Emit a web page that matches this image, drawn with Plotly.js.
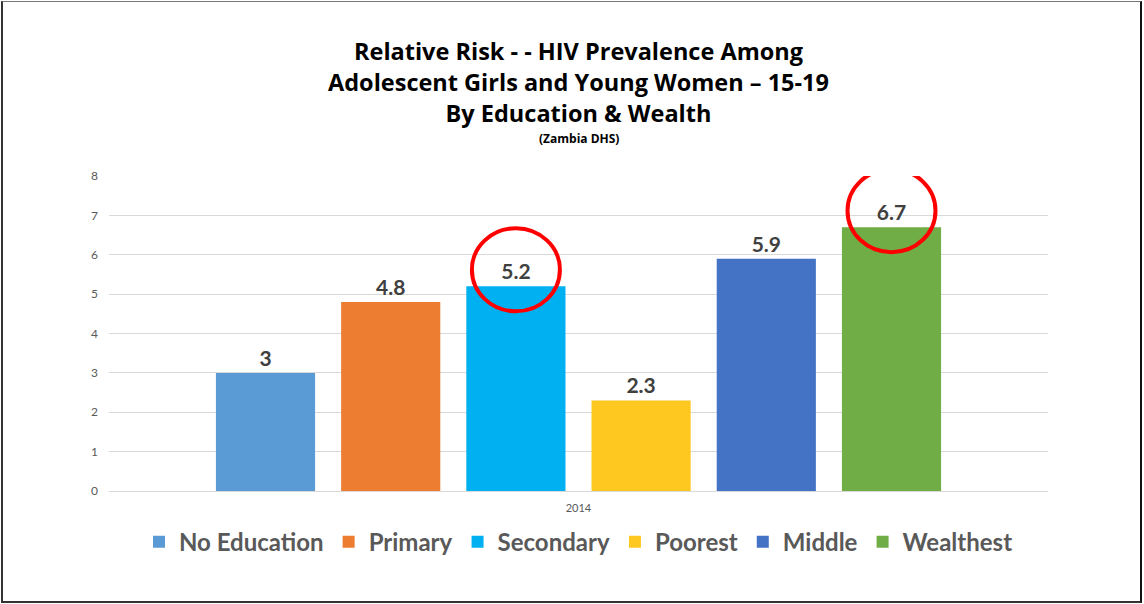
<!DOCTYPE html>
<html>
<head>
<meta charset="utf-8">
<script src="https://cdn.plot.ly/plotly-3.0.1.min.js"></script>
<style>
  html, body { margin: 0; padding: 0; background: #fff; }
  #frame { position: absolute; left: 1px; top: 1px; width: 1137px; height: 599px;
           border-top: 1px solid #777; border-left: 2px solid #333;
           border-right: 2px solid #111; border-bottom: 2px solid #333; pointer-events: none; z-index: 10; }
  #chart { position: absolute; left: 0; top: 0; width: 1144px; height: 604px; }
</style>
</head>
<body>
<div id="chart"></div>
<div id="frame"></div>
<script>
const year = ["2014"];
const seriesNames = ["No Education", "Primary", "Secondary", "Poorest", "Middle", "Wealthest"];
const seriesValues = [3, 4.8, 5.2, 2.3, 5.9, 6.7];
const seriesColors = ["#5B9BD5", "#ED7D31", "#00B0F0", "#FFC820", "#4472C4", "#70AD47"];
const highlighted = ["Secondary", "Wealthest"];
const titleText = "Relative Risk - - HIV Prevalence Among<br>Adolescent Girls and Young Women – 15-19<br>By Education &amp; Wealth";
const sourceText = "(Zambia DHS)";

const traces = seriesNames.map((name, i) => ({
  type: "bar",
  name: name,
  x: year,
  y: [seriesValues[i]],
  marker: { color: seriesColors[i] },
  text: [String(seriesValues[i])],
  textposition: "outside",
  cliponaxis: false,
  textfont: { family: "Lato, 'Open Sans', sans-serif", size: 21, color: "#404040", weight: "bold" },
  hoverinfo: "skip"
}));

// highlight circles around selected bar labels
const nCats = seriesNames.length;
const groupFrac = 1 - 0.2;
const shapes = highlighted.map(name => {
  const i = seriesNames.indexOf(name);
  const xc = 0.5 + (-groupFrac / 2 + (i + 0.5) * groupFrac / nCats);
  return {
    type: "circle",
    xref: "paper", yref: "y",
    xsizemode: "pixel", ysizemode: "pixel",
    xanchor: xc, yanchor: seriesValues[i],
    x0: -44, x1: 44, y0: -25, y1: 58,
    line: { color: "#FF0000", width: 4 }
  };
});

const layout = {
  width: 1144, height: 604,
  margin: { l: 109, r: 96, t: 176, b: 113 },
  paper_bgcolor: "#ffffff",
  plot_bgcolor: "#ffffff",
  font: { family: "Lato, 'Open Sans', sans-serif", color: "#595959" },
  title: {
    text: "<b>" + titleText + "</b>",
    font: { family: "'Open Sans', Lato, sans-serif", size: 23.5, color: "#000000" },
    x: 0.5, xanchor: "center", xref: "paper",
    y: 0.9, yanchor: "top", yref: "container"
  },
  annotations: [{
    text: "<b>" + sourceText + "</b>",
    xref: "paper", yref: "paper",
    x: 0.5, xanchor: "center",
    y: 1.12, yanchor: "middle",
    showarrow: false,
    font: { family: "'Open Sans', Lato, sans-serif", size: 12, color: "#000000" }
  }],
  barmode: "group",
  bargap: 0.2,
  bargroupgap: 0.208,
  xaxis: {
    type: "category",
    showgrid: false,
    showline: true, linecolor: "#d9d9d9", linewidth: 1,
    ticks: "",
    tickfont: { size: 11, color: "#595959" },
    ticklabelstandoff: 7
  },
  yaxis: {
    range: [0, 8], dtick: 1,
    showgrid: true, gridcolor: "#d9d9d9", gridwidth: 1,
    zeroline: false, showline: false,
    ticks: "",
    tickfont: { size: 12, color: "#595959" },
    ticklabelstandoff: 10
  },
  showlegend: true,
  legend: {
    orientation: "h",
    x: 0.5, xanchor: "center",
    y: -0.162, yanchor: "middle",
    font: { family: "Lato, 'Open Sans', sans-serif", size: 24, color: "#595959", weight: "bold" },
    itemwidth: 30,
    traceorder: "normal"
  },
  shapes: shapes
};

Plotly.newPlot("chart", traces, layout, { displayModeBar: false, staticPlot: true });
</script>
</body>
</html>
